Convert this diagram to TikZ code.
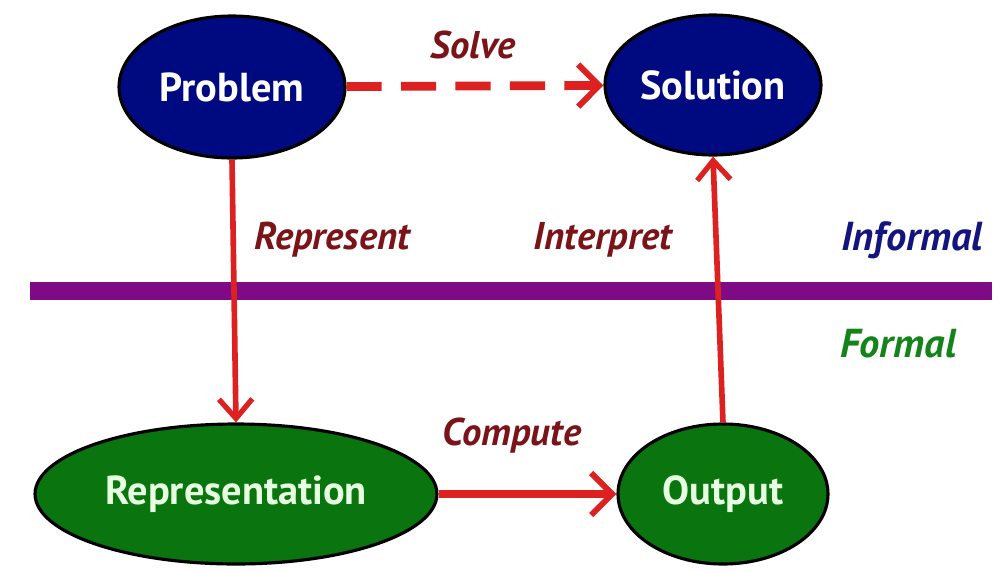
\documentclass[tikz,border=0pt]{standalone}
\usepackage{fontspec}
\setmainfont{PT Sans}
\usetikzlibrary{arrows.meta,shapes.geometric}
\definecolor{navyfill}{HTML}{000A80}
\definecolor{greenfill}{HTML}{0A740F}
\definecolor{arrowred}{HTML}{DD2020}
\definecolor{labelred}{HTML}{7A1418}
\definecolor{bandpurple}{HTML}{7E0A86}
\definecolor{informalblue}{HTML}{14147E}
\definecolor{formalgreen}{HTML}{14841A}
\definecolor{palegreen}{HTML}{E6FFE0}
\begin{document}
\begin{tikzpicture}[x=0.02cm,y=-0.02cm,
  blob/.style={ellipse,draw=black,line width=1.8pt,inner sep=0pt,
    font=\bfseries\fontsize{23}{26}\selectfont},
  upper/.style={blob,fill=navyfill,text=white},
  lower/.style={blob,fill=greenfill,text=palegreen},
  link/.style={draw=arrowred,line width=3.2pt,
    -{Straight Barb[length=11pt,width=19pt,line width=3pt]}},
  heavylink/.style={link,line width=5pt,
    -{Straight Barb[length=12pt,width=24pt,line width=3.4pt]}},
  verb/.style={text=labelred,font=\bfseries\itshape\fontsize{22}{25}\selectfont},
  zone/.style={font=\bfseries\itshape\fontsize{23}{26}\selectfont}]
\useasboundingbox (0,0) rectangle (1002,572);
% the four states
\node[upper,minimum width=4.52cm,minimum height=2.84cm] (problem) at (232,87) {Problem};
\node[upper,minimum width=4.32cm,minimum height=2.80cm] (solution) at (713,85) {Solution};
\node[lower,minimum width=8.04cm,minimum height=2.80cm] (repr) at (236,494) {Representation};
\node[lower,minimum width=4.20cm,minimum height=2.80cm] (output) at (723,494) {Output};
% boundary between informal and formal
\coordinate (bandL) at (30,291);
\coordinate (bandR) at (992,291);
\draw[bandpurple,line width=10pt] (bandL) -- (bandR);
% transitions
\draw[heavylink,dash pattern=on 20pt off 11pt] (problem) -- (solution);
\draw[link] (problem.south) -- (repr.north);
\draw[heavylink] (repr) -- (output);
\draw[link] (output.north) -- (solution.south);
% labels
\node[verb] (solve) at (473,45) {Solve};
\node[verb] (represent) at (332,240) {Represent};
\node[verb] (interpret) at (603,240) {Interpret};
\node[verb] (compute) at (512,436) {Compute};
\node[zone,text=informalblue] (informal) at (912,240) {Informal};
\node[zone,text=formalgreen] (formal) at (898,344) {Formal};
\end{tikzpicture}
\end{document}
